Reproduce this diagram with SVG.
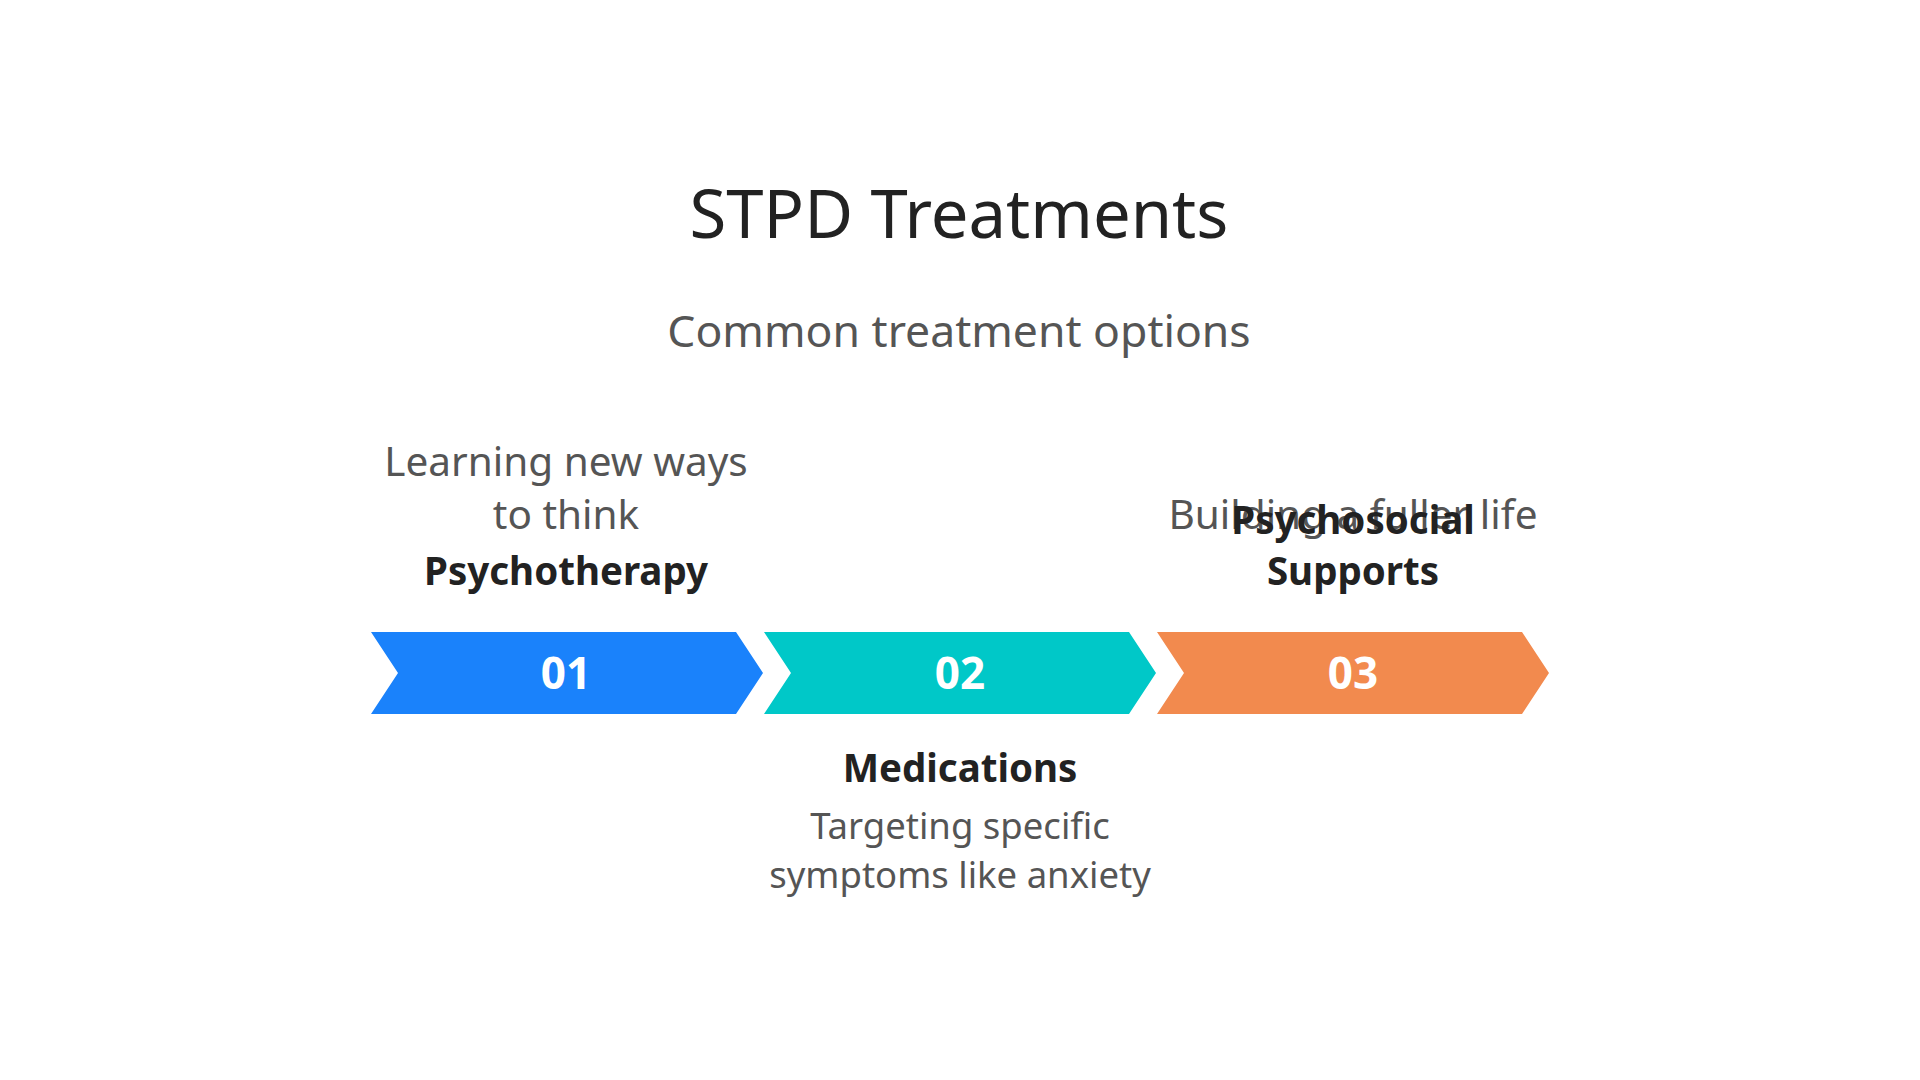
<svg xmlns="http://www.w3.org/2000/svg" width="1920" height="1080" viewBox="0 0 1920 1080">
<style>
text{font-family:"Noto Sans","Open Sans","DejaVu Sans",sans-serif;text-anchor:middle}
.t{font-size:67px;fill:#222}
.s{font-size:44.5px;fill:#555}
.n{font-size:44px;font-weight:bold;fill:#fff}
.h{font-size:38.5px;font-weight:bold;fill:#222}
.d{font-size:40.5px;fill:#555}
.d2{font-size:36.5px;fill:#555}
</style>
<rect width="1920" height="1080" fill="#fff"/>
<text class="t" x="959" y="238">STPD Treatments</text>
<text class="s" x="959" y="347">Common treatment options</text>
<g id="connectors"></g>
<g id="step1">
<path d="M371,632 L736,632 L763,673 L736,714 L371,714 L398,673 Z" fill="#1a82fb"/>
<text class="n" x="566" y="689">01</text>
<text class="d" x="566" y="476">Learning new ways</text>
<text class="d" x="566" y="529">to think</text>
<text class="h" x="566" y="585">Psychotherapy</text>
</g>
<g id="step2">
<path d="M764,632 L1129,632 L1156,673 L1129,714 L764,714 L791,673 Z" fill="#00c8c8"/>
<text class="n" x="960" y="689">02</text>
<text class="h" x="960" y="782">Medications</text>
<text class="d2" x="960" y="839">Targeting specific</text>
<text class="d2" x="960" y="888">symptoms like anxiety</text>
</g>
<g id="step3">
<path d="M1157,632 L1522,632 L1549,673 L1522,714 L1157,714 L1184,673 Z" fill="#f28a4e"/>
<text class="n" x="1353" y="689">03</text>
<text class="d" x="1353" y="529">Building a fuller life</text>
<text class="h" x="1353" y="534">Psychosocial</text>
<text class="h" x="1353" y="585">Supports</text>
</g>
</svg>
